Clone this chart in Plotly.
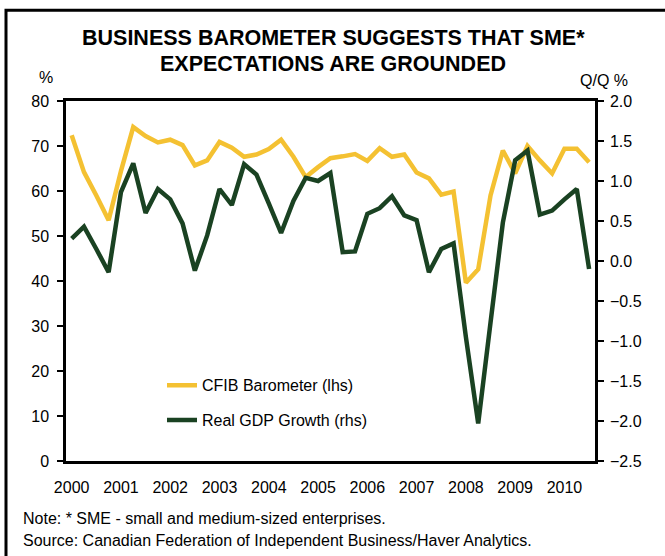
import plotly.graph_objects as go

# Quarterly observations, 2000Q1 .. 2010Q3 (index 0 .. 42)
quarter_index = list(range(43))

cfib_barometer = [
    72.4, 64.2, 59.0, 53.5, 64.4, 74.2, 72.2, 70.8, 71.4, 70.2,
    65.7, 66.8, 70.9, 69.6, 67.6, 68.1, 69.3, 71.4, 67.6, 63.1,
    65.3, 67.3, 67.7, 68.2, 66.7, 69.5, 67.6, 68.1, 64.1, 62.8,
    59.2, 59.9, 39.6, 42.6, 59.0, 69.0, 63.9, 70.0, 66.8, 63.9,
    69.4, 69.4, 66.4,
]

real_gdp_growth = [
    0.28, 0.43, 0.15, -0.14, 0.86, 1.22, 0.60, 0.90, 0.77, 0.47,
    -0.12, 0.32, 0.90, 0.70, 1.21, 1.08, 0.72, 0.35, 0.75, 1.04,
    1.00, 1.10, 0.11, 0.12, 0.59, 0.66, 0.81, 0.57, 0.51, -0.14,
    0.15, 0.22, -0.95, -2.03, -0.77, 0.48, 1.26, 1.38, 0.58, 0.63,
    0.77, 0.90, -0.10,
]

year_labels = [str(y) for y in range(2000, 2011)]
year_positions = [4 * k for k in range(len(year_labels))]

YELLOW = "#F4C132"
GREEN = "#1A4222"
FONT = "Liberation Sans, Arial, sans-serif"

fig = go.Figure()

fig.add_trace(go.Scatter(
    x=quarter_index, y=cfib_barometer, mode="lines",
    name="CFIB Barometer (lhs)", legendgroup="a",
    line=dict(color=YELLOW, width=4.5), yaxis="y",
))
fig.add_trace(go.Scatter(
    x=quarter_index, y=real_gdp_growth, mode="lines",
    name="Real GDP Growth (rhs)", legendgroup="b",
    line=dict(color=GREEN, width=4.5), yaxis="y2",
))

W, H = 665, 556
L, R, T, B = 66, 70, 100.7, 95.3
pw, ph = W - L - R, H - T - B


def px(x):
    return (x - L) / pw


def py(y):
    return (H - B - y) / ph


fig.update_layout(
    width=W, height=H,
    margin=dict(l=L, r=R, t=T, b=B),
    paper_bgcolor="white", plot_bgcolor="white",
    font=dict(family=FONT, size=16, color="black"),
    showlegend=True,
    legend=dict(
        x=px(162), y=py(368), xanchor="left", yanchor="top",
        bgcolor="rgba(0,0,0,0)", font=dict(size=16),
        traceorder="grouped", tracegroupgap=11,
    ),
    xaxis=dict(
        range=[-0.46, 42.48], tickmode="array",
        tickvals=year_positions, ticktext=year_labels,
        ticks="", showgrid=False, zeroline=False,
        showline=True, mirror=True, linecolor="black", linewidth=2.5,
        ticklabelstandoff=10,
    ),
    yaxis=dict(
        range=[0, 80], dtick=10, tick0=0,
        ticks="outside", ticklen=6, tickwidth=2, tickcolor="black",
        showgrid=False, zeroline=False,
        showline=True, linecolor="black", linewidth=2.5,
        ticklabelstandoff=5,
    ),
    yaxis2=dict(
        range=[-2.5, 2.0], dtick=0.5, tick0=0, tickformat=".1f",
        overlaying="y", side="right",
        ticks="outside", ticklen=6, tickwidth=2, tickcolor="black",
        showgrid=False, zeroline=False,
        showline=True, linecolor="black", linewidth=2.5,
        ticklabelstandoff=3,
    ),
)

annotations = [
    dict(text="<b>BUSINESS BAROMETER SUGGESTS THAT SME*</b>",
         x=px(333), y=py(38), font=dict(size=21.5)),
    dict(text="<b>EXPECTATIONS ARE GROUNDED</b>",
         x=px(333), y=py(64), font=dict(size=21.5)),
    dict(text="%", x=px(46), y=py(77), font=dict(size=16)),
    dict(text="Q/Q %", x=px(604), y=py(80), font=dict(size=16)),
    dict(text="Note: * SME - small and medium-sized enterprises.",
         x=px(21), y=py(518), xanchor="left", font=dict(size=16)),
    dict(text="Source: Canadian Federation of Independent Business/Haver Analytics.",
         x=px(21), y=py(540), xanchor="left", font=dict(size=16)),
]
for a in annotations:
    a.setdefault("xanchor", "center")
    a.update(xref="paper", yref="paper", yanchor="middle", showarrow=False)
fig.update_layout(annotations=annotations)

# Outer frame around the whole exhibit
fig.add_shape(type="rect", xref="paper", yref="paper",
              x0=px(6), x1=px(W + 20), y0=py(H + 20), y1=py(10),
              line=dict(color="black", width=3), layer="below")

fig.write_html("out.html")
